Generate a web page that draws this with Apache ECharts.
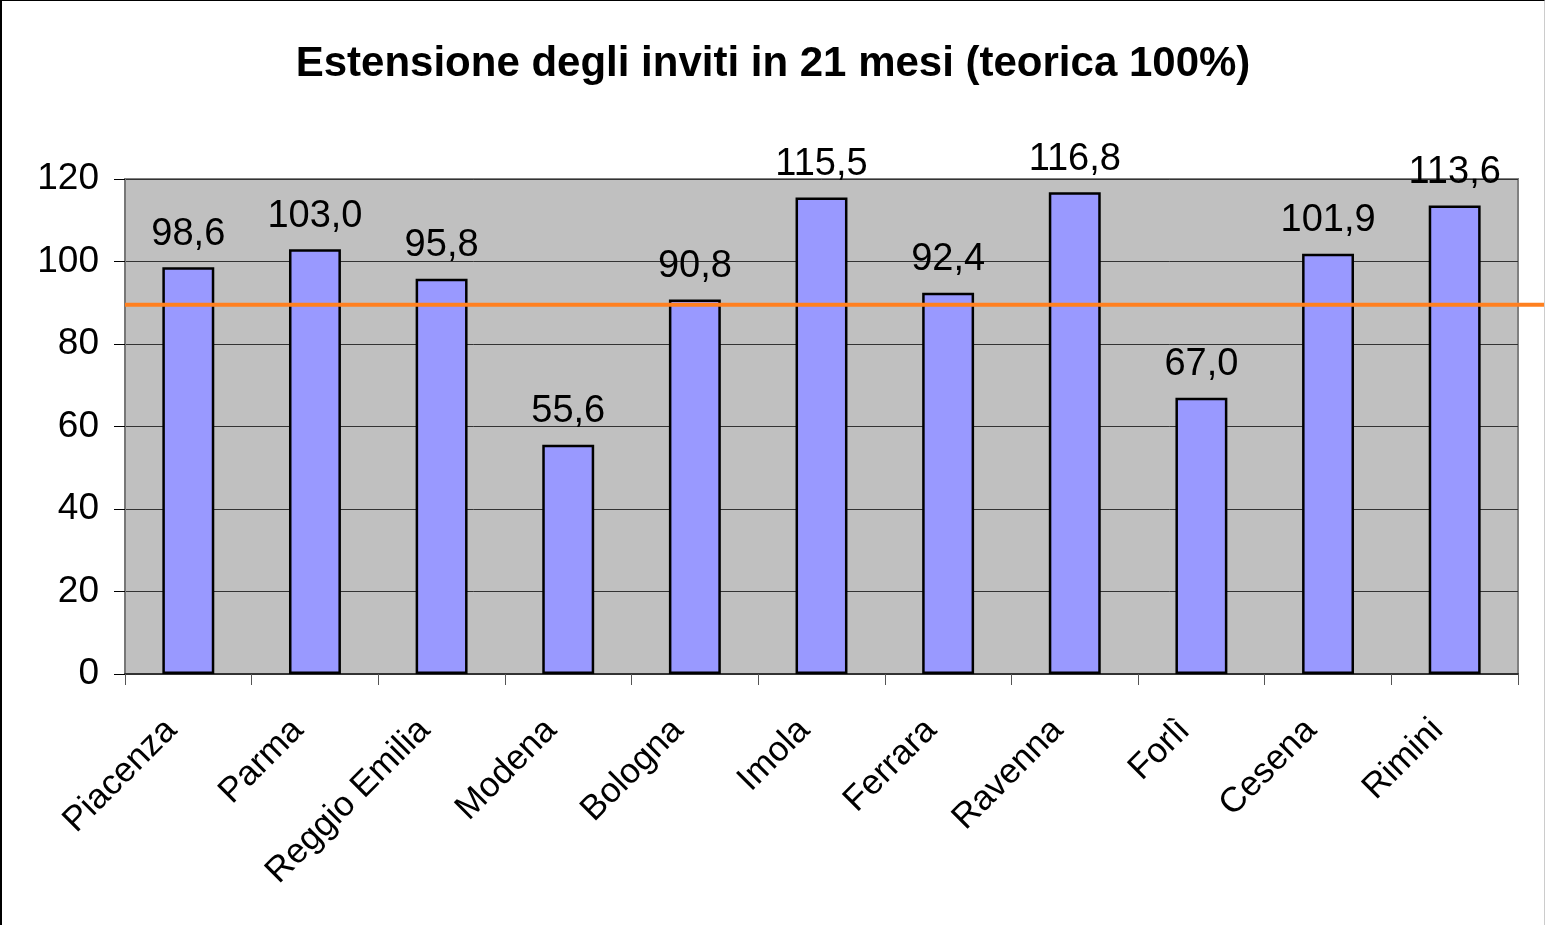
<!DOCTYPE html>
<html>
  <head>
    <meta charset="UTF-8" />
    <title>Estensione degli inviti</title>
    <script src="https://cdn.jsdelivr.net/npm/echarts@6/dist/echarts.min.js"></script>
    <style>
      body { margin: 0; background: #fff; }
      #chart {
        width: 1545px; height: 925px; box-sizing: border-box;
        border-left: 2px solid #000; border-top: 1px solid #000; border-right: 1px solid #ccc;
      }
    </style>
  </head>
  <body>
    <div id="chart"></div>
  </body>
  <script>
    // data
    const provinces = ["Piacenza", "Parma", "Reggio Emilia", "Modena", "Bologna", "Imola",
                       "Ferrara", "Ravenna", "Forlì", "Cesena", "Rimini"];
    const extension = [98.6, 103.0, 95.8, 55.6, 90.8, 115.5, 92.4, 116.8, 67.0, 101.9, 113.6];
    const yTicks = [0, 20, 40, 60, 80, 100, 120];
    const refLevel = 89.5; // orange line

    const font = "'Liberation Sans', Arial, sans-serif";
    let myChart = echarts.init(document.getElementById("chart"));

    myChart.setOption({
      animation: false,
      title: {
        text: "Estensione degli inviti in 21 mesi (teorica 100%)",
        left: "center",
        top: 37,
        textStyle: { fontFamily: font, fontSize: 42, fontWeight: "bold", color: "#000" },
      },
      grid: [
        { left: 123, right: 26, top: 178, bottom: 251, show: true,
          backgroundColor: "#C0C0C0", borderColor: "#808080", borderWidth: 2 },
        // wider grid so the reference line runs to the right edge
        { left: 123, right: 0, top: 178, bottom: 251 },
      ],
      xAxis: [
        {
          type: "category",
          data: provinces,
          gridIndex: 0,
          axisLine: { lineStyle: { color: "#333", width: 2 } },
          axisTick: { show: true, length: 11, lineStyle: { color: "#555" } },
          axisLabel: { rotate: 45, margin: 34, padding: [0, 24, 0, 0], fontSize: 35,
                       fontFamily: font, color: "#000", interval: 0 },
        },
        { type: "value", gridIndex: 1, min: 0, max: 1, show: false },
      ],
      yAxis: [
        {
          type: "value",
          gridIndex: 0,
          min: yTicks[0],
          max: yTicks[yTicks.length - 1],
          interval: 20,
          axisLine: { show: true, lineStyle: { color: "#777", width: 2 } },
          axisTick: { show: true, length: 11, lineStyle: { color: "#000" } },
          axisLabel: { fontSize: 37, fontFamily: font, color: "#000", margin: 26 },
          splitLine: { lineStyle: { color: "#333", width: 1 } },
        },
        { type: "value", gridIndex: 1, min: 0, max: 120, show: false },
      ],
      series: [
        {
          type: "bar",
          data: extension,
          barWidth: "41%",
          itemStyle: { color: "#9999FF", borderColor: "#000", borderWidth: 2.5 },
          label: {
            show: true,
            position: "top",
            distance: 14,
            fontSize: 38,
            fontFamily: font,
            color: "#000",
            formatter: (p) => p.value.toFixed(1).replace(".", ","),
          },
        },
        {
          type: "line",
          xAxisIndex: 1,
          yAxisIndex: 1,
          data: [[0, refLevel], [1, refLevel]],
          showSymbol: false,
          lineStyle: { color: "#FF8020", width: 4 },
          z: 5,
        },
      ],
    });
  </script>
</html>
